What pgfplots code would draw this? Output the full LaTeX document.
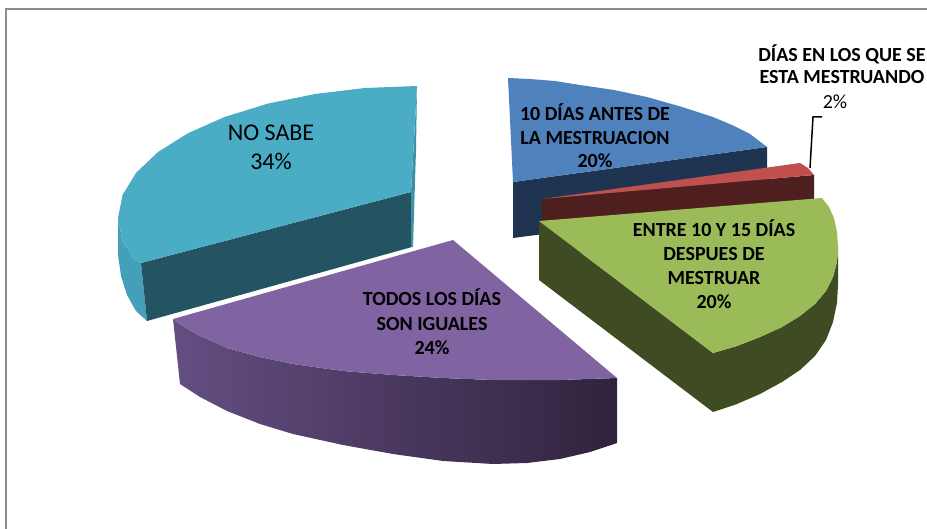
\documentclass[border=0pt]{standalone}
\usepackage{fontspec}
\setmainfont{Carlito}
\usepackage{pgfplots}
\pgfplotsset{compat=1.18}
\definecolor{cyanTop}{HTML}{4BACC6}
\definecolor{cyanDark}{HTML}{245461}
\definecolor{cyanWall}{HTML}{43A0B8}
\definecolor{cyanStrip}{HTML}{3D92A8}
\definecolor{blueTop}{HTML}{4F81BD}
\definecolor{blueDark}{HTML}{1F3451}
\definecolor{redTop}{HTML}{C0504D}
\definecolor{redDark}{HTML}{4E1F1E}
\definecolor{greenTop}{HTML}{9BBB59}
\definecolor{greenDark}{HTML}{3F4C23}
\definecolor{purpTop}{HTML}{8064A2}
\definecolor{purpWallL}{HTML}{644E82}
\definecolor{purpWallR}{HTML}{30233D}
\definecolor{frameGray}{HTML}{8C8C8C}
\begin{document}
\begin{tikzpicture}
\useasboundingbox (0,0) rectangle (927pt,529pt);
\begin{axis}[at={(0,0)}, anchor=south west, width=927pt, height=529pt,
  scale only axis, xmin=0, xmax=927, ymin=0, ymax=529, y dir=reverse,
  hide axis, clip=false]
% frame
\draw[line width=2pt, color=frameGray] (axis cs:6,545) -- (axis cs:6,9) -- (axis cs:945,9);
% NO SABE 34%
\addplot[draw=none, fill=cyanWall] coordinates {(118,218) (122.5,241) (134,259) (141,263) (147,321) (136,311) (127,295) (121,276) (118,255)};
\addplot[draw=none, fill=cyanDark] coordinates {(141,263) (411,192) (412,247) (147,321)};
\addplot[draw=none, fill=cyanStrip] coordinates {(411,192) (417,88) (416,150) (413,247) (411,247)};
\addplot[draw=none, fill=cyanTop] coordinates {(417,86) (365,88) (315,94) (267.5,103.7) (224.8,116.9) (188,133.2) (158,152) (136,172.9) (122.5,195.1) (118,218) (122.5,240.9) (134,259) (141,263) (411,192)};
% 10 DIAS ANTES DE LA MESTRUACION 20%
\addplot[draw=none, fill=blueDark] coordinates {(513,182) (767,147) (767,205) (513,238)};
\addplot[draw=none, fill=blueTop] coordinates {(508,78) (530,79) (555,81) (580,85) (614,90) (647,97) (682,107) (713,117) (732,125) (750,134) (767,147) (513,182)};
% DIAS EN LOS QUE SE ESTA MESTRUANDO 2%
\addplot[draw=none, fill=redDark] coordinates {(542,199) (814,175) (814,232) (542,257)};
\addplot[draw=none, fill=redTop] coordinates {(542,199) (800,163) (808,168) (814,175)};
% ENTRE 10 Y 15 DIAS DESPUES DE MESTRUAR 20%
\addplot[draw=none, fill=greenDark] coordinates {(539,221) (713,353) (713,412) (539,280)};
\addplot[draw=none, fill=greenDark] coordinates {(838,247) (837,262) (833,277) (826,291) (815,304) (800,316) (782,327) (760,337) (737,346) (713,353) (713,412) (737,404) (760,394) (782,382) (800,370) (815,356) (826,340) (833,322) (837,303) (838,285)};
\addplot[draw=none, fill=greenTop] coordinates {(539,221) (822,198) (829,207) (834,218) (837,232) (838,247) (837,262) (833,277) (826,291) (815,304) (800,316) (782,327) (760,337) (737,346) (713,353)};
% TODOS LOS DIAS SON IGUALES 24%
\addplot[draw=none, left color=purpWallL, right color=purpWallR] coordinates {(173,319) (186,328) (200,336) (214,342) (227,348) (260,357) (293,364) (343,371) (393,375) (443,378) (493,380) (560,380) (617,378) (617,443) (590,452) (560,459) (527,463) (493,464) (443,461) (393,454) (343,445) (293,434) (260,424) (227,411) (200,397) (180,384)};
\addplot[draw=none, fill=purpTop] coordinates {(453,240) (173,319) (186,328) (200,336) (214,342) (227,348) (260,357) (293,364) (343,371) (393,375) (443,378) (493,380) (560,380) (617,378)};
% labels
\node[align=center, font=\fontsize{24}{29}\selectfont] at (axis cs:271,147) {NO SABE\\34\%};
\node[align=center, font=\fontsize{20}{23.5}\selectfont\bfseries] at (axis cs:595,136) {10 DÍAS ANTES DE\\LA MESTRUACION\\20\%};
\node[align=center, font=\fontsize{20}{22}\selectfont\bfseries] at (axis cs:842,64) {DÍAS EN LOS QUE SE\\ESTA MESTRUANDO};
\node[font=\fontsize{20}{22}\selectfont] at (axis cs:835,102) {2\%};
\draw[black, line width=1.5pt] (axis cs:822,117) -- (axis cs:813,117) -- (axis cs:810,168);
\node[align=center, font=\fontsize{20}{24}\selectfont\bfseries] at (axis cs:714,264) {ENTRE 10 Y 15 DÍAS\\DESPUES DE\\MESTRUAR\\20\%};
\node[align=center, font=\fontsize{20}{24.5}\selectfont\bfseries] at (axis cs:432,322) {TODOS LOS DÍAS\\SON IGUALES\\24\%};
\end{axis}
\end{tikzpicture}
\end{document}
